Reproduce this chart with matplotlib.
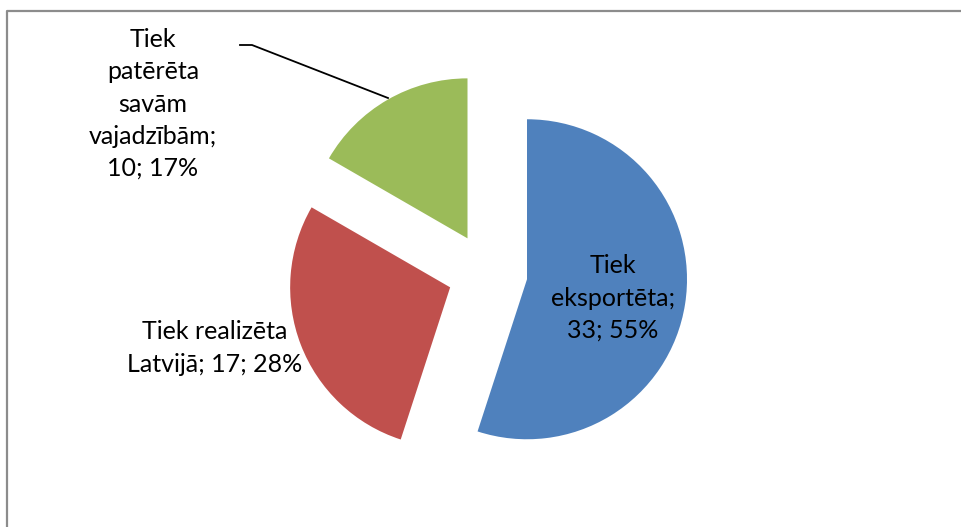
import matplotlib

matplotlib.use("Agg")
import matplotlib.pyplot as plt

labels = ["Tiek\neksportēta;\n33; 55%", "Tiek realizēta\nLatvijā; 17; 28%", "Tiek\npatērēta\nsavām\nvajadzībām;\n10; 17%"]
values = [33, 17, 10]
colors = ["#4F81BD", "#C0504D", "#9BBB59"]

W, H = 961, 527
fig = plt.figure(figsize=(W / 100, H / 100), dpi=100)
ax = fig.add_axes([0, 0, 1, 1])
ax.set_xlim(0, W)
ax.set_ylim(0, H)
ax.set_aspect("equal")
ax.axis("off")

# pie drawn in pixel units; explode is an absolute offset here
cx, cy, r = 487.5, H - 273, 160
ax.pie(values, colors=colors, startangle=90, counterclock=False,
       explode=[40] * 3, center=(cx, cy), radius=r,
       wedgeprops=dict(linewidth=0), frame=False)
ax.set_xlim(0, W)
ax.set_ylim(0, H)

font = dict(family="Lato", fontsize=18, color="black", ha="center", va="center", linespacing=1.48)
ax.text(613, H - 298, labels[0], **font)
ax.text(215, H - 348, labels[1], **font)
ax.text(153, H - 104, labels[2], **font)

# leader line for the small slice
ax.plot([240, 252, 388], [H - 45, H - 45, H - 98], color="black", lw=1.3)

# chart area border (cropped on right/bottom)
ax.plot([7, 7, W], [0, H - 11, H - 11], color="#8c8c8c", lw=1.6, solid_capstyle="butt")

fig.savefig("out.png", dpi=100, facecolor="white")
